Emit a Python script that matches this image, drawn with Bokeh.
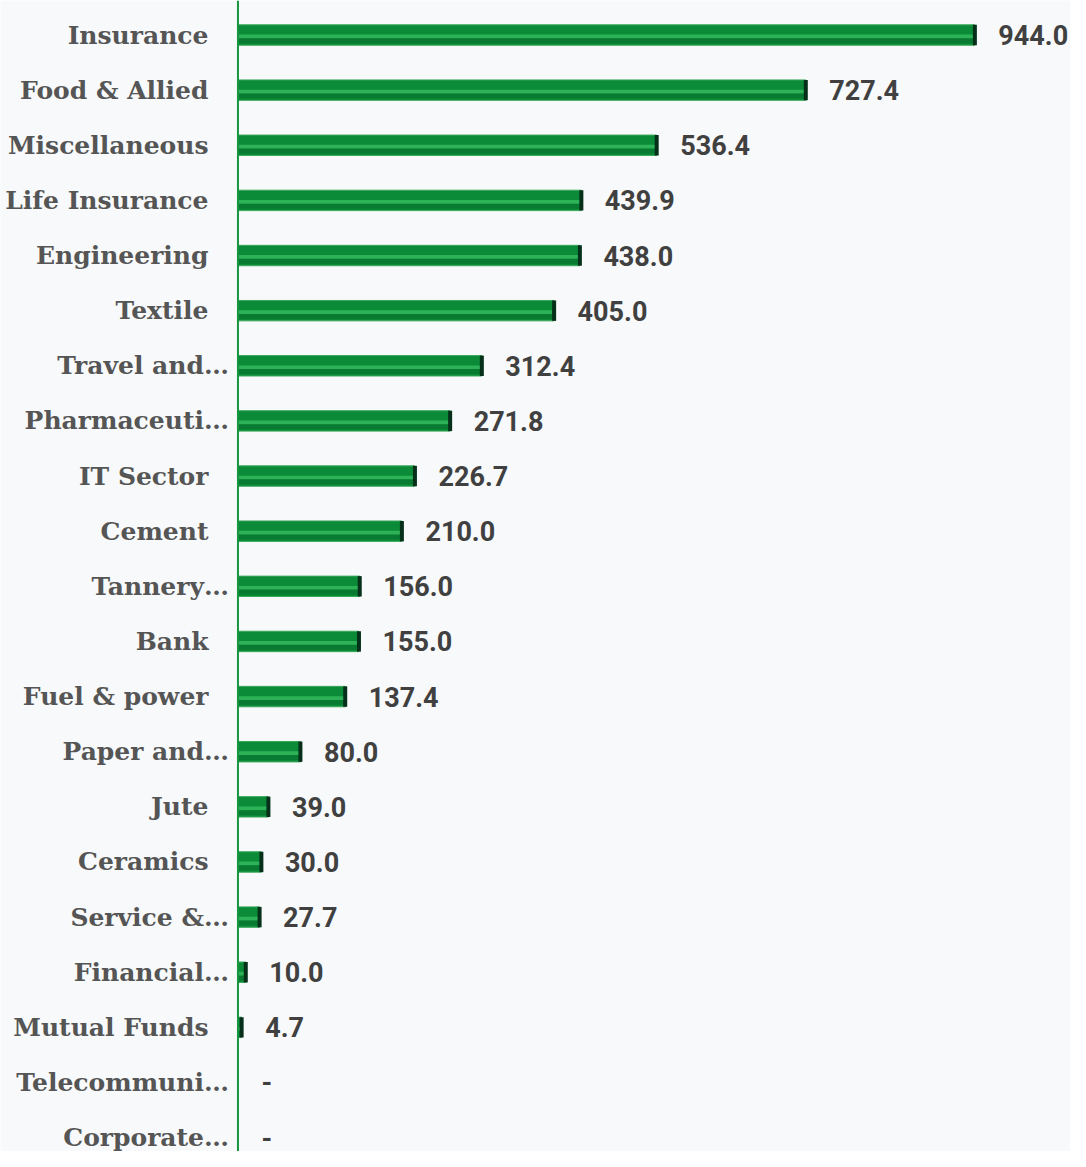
from bokeh.plotting import figure
from bokeh.models import Range1d, Span, ColumnDataSource
from bokeh.embed import file_html
from bokeh.resources import INLINE
from bokeh.core.properties import value

categories = ["Insurance", "Food & Allied", "Miscellaneous", "Life Insurance",
              "Engineering", "Textile", "Travel and…", "Pharmaceuti…",
              "IT Sector", "Cement", "Tannery…", "Bank", "Fuel & power",
              "Paper and…", "Jute", "Ceramics", "Service &…", "Financial…",
              "Mutual Funds", "Telecommuni…", "Corporate…"]
values = [944.0, 727.4, 536.4, 439.9, 438.0, 405.0, 312.4, 271.8, 226.7,
          210.0, 156.0, 155.0, 137.4, 80.0, 39.0, 30.0, 27.7, 10.0, 4.7, 0.0, 0.0]

ys = list(range(len(categories)))
val_text = ["-" if v == 0 else f"{v:.1f}" for v in values]
lab_off = [-9 if c.endswith("…") else -29.5 for c in categories]

W, H = 1070, 1151
p = figure(width=W, height=H, output_backend="svg", toolbar_location=None,
           x_range=Range1d(-304.2, 1066.5), y_range=Range1d(20.252, -0.626),
           min_border=0, background_fill_color="#f7f9fa",
           border_fill_color="#f7f9fa", outline_line_color=None)
p.axis.visible = False
p.grid.visible = False

by = [y for y, v in zip(ys, values) if v > 0]
bv = [v for v in values if v > 0]
bars = ColumnDataSource(dict(y=by, v=bv))
bars_lo = ColumnDataSource(dict(y=[y + 0.03 for y in by], v=bv))
bars_dk = ColumnDataSource(dict(y=[y + 0.105 for y in by], v=bv))

BH = 0.37
# base bar
p.hbar(y="y", left=0, right="v", height=BH, source=bars,
       fill_color="#0b8a38", line_color="#3aa85a", line_width=1)
# lighter bevel stripe
p.hbar(y="y", left=0, right="v", height=0.075, source=bars_lo,
       fill_color="#2db257", line_color=None)
# darker lower band
p.hbar(y="y", left=0, right="v", height=0.09, source=bars_dk,
       fill_color="#087a31", line_color=None)
# dark right cap
p.rect(x="v", y="y", width=4, width_units="screen", height=BH, source=bars,
       fill_color="#06301a", line_color=None)

# axis line
p.add_layout(Span(location=0, dimension="height", line_color="#169640", line_width=2))

src = ColumnDataSource(dict(y=ys, v=values, t=val_text, c=categories, off=lab_off))
p.text(x="v", y="y", text="t", source=src, x_offset=23.5,
       text_align="left", text_baseline="middle",
       text_font=value("Roboto"), text_font_style="bold",
       text_font_size="27px", text_color="#404040")
p.text(x=0, y="y", text="c", source=src, x_offset="off",
       text_align="right", text_baseline="middle",
       text_font=value("DejaVu Serif"), text_font_style="bold",
       text_font_size="25px", text_color="#555555")

open("out.html", "w").write(file_html(p, INLINE))
